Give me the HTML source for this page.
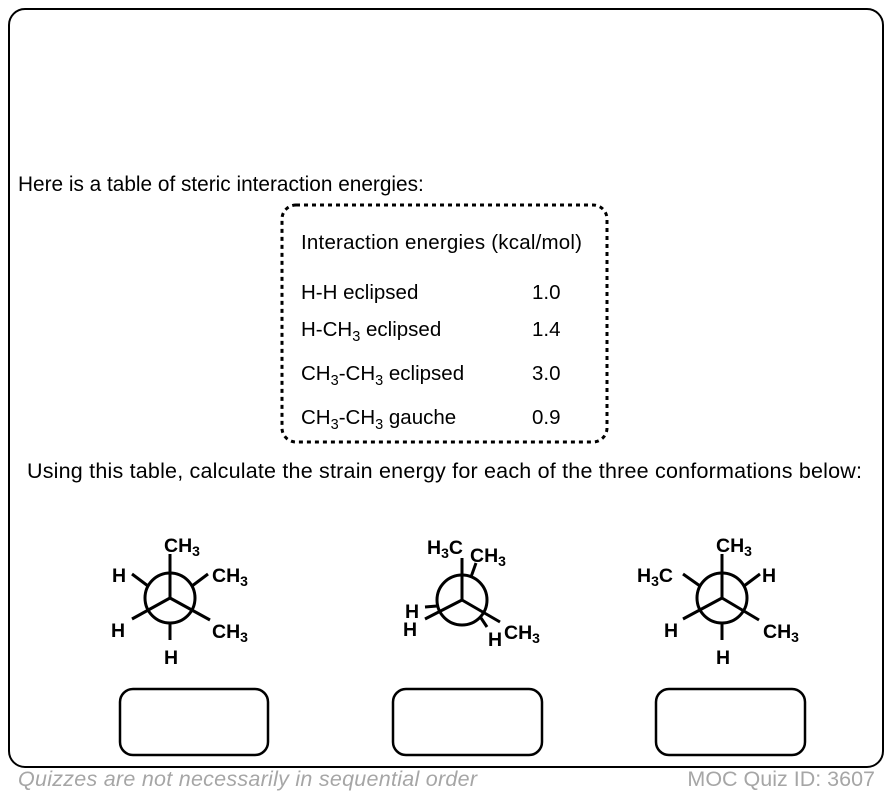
<!DOCTYPE html>
<html><head><meta charset="utf-8"><style>
html,body{margin:0;padding:0;background:#fff;}
svg{display:block;}
text{font-family:"Liberation Sans",Arial,sans-serif;}
</style></head><body>
<svg width="890" height="798" viewBox="0 0 890 798" xmlns="http://www.w3.org/2000/svg">
<rect x="9" y="9" width="874" height="758" rx="16" fill="#fff" stroke="#000" stroke-width="2"/>
<text x="18" y="191" font-size="20.8">Here is a table of steric interaction energies:</text>
<rect x="282" y="205" width="325" height="237" rx="14" fill="none" stroke="#000" stroke-width="3" stroke-dasharray="4,4"/>
<g font-size="20.5">
<text x="301" y="249" textLength="281">Interaction energies (kcal/mol)</text>
<text x="301" y="299">H-H eclipsed</text>
<text x="301" y="336">H-CH<tspan font-size="14.5" dy="5">3</tspan><tspan dy="-5"> eclipsed</tspan></text>
<text x="301" y="380">CH<tspan font-size="14.5" dy="5">3</tspan><tspan dy="-5">-CH</tspan><tspan font-size="14.5" dy="5">3</tspan><tspan dy="-5"> eclipsed</tspan></text>
<text x="301" y="424">CH<tspan font-size="14.5" dy="5">3</tspan><tspan dy="-5">-CH</tspan><tspan font-size="14.5" dy="5">3</tspan><tspan dy="-5"> gauche</tspan></text>
<text x="532" y="299">1.0</text>
<text x="532" y="336">1.4</text>
<text x="532" y="380">3.0</text>
<text x="532" y="424">0.9</text>
</g>
<text x="27" y="478" font-size="21.5" textLength="835">Using this table, calculate the strain energy for each of the three conformations below:</text>

<g stroke="#000" stroke-width="3" fill="none">
<circle cx="170" cy="598" r="25"/>
<line x1="170" y1="598" x2="170" y2="554"/>
<line x1="170" y1="598" x2="132" y2="619"/>
<line x1="170" y1="598" x2="210" y2="620"/>
<line x1="170" y1="623" x2="170" y2="640"/>
<line x1="148" y1="586" x2="132" y2="574"/>
<line x1="192" y1="586" x2="208" y2="574"/>
<circle cx="462" cy="600" r="25"/>
<line x1="462" y1="600" x2="462" y2="558"/>
<line x1="462" y1="600" x2="425" y2="619"/>
<line x1="462" y1="600" x2="500" y2="622"/>
<line x1="471" y1="577" x2="476" y2="563"/>
<line x1="437" y1="606" x2="425" y2="607"/>
<line x1="481" y1="618" x2="487" y2="627"/>
<circle cx="722" cy="598" r="25"/>
<line x1="722" y1="598" x2="722" y2="554"/>
<line x1="722" y1="598" x2="683" y2="619"/>
<line x1="722" y1="598" x2="759" y2="620"/>
<line x1="722" y1="623" x2="722" y2="640"/>
<line x1="700" y1="586" x2="683" y2="574"/>
<line x1="744" y1="586" x2="760" y2="574"/>
</g>
<g font-size="19.5" font-weight="bold">
<text x="164" y="552">CH<tspan font-size="14" dy="4">3</tspan></text>
<text x="112" y="582">H</text>
<text x="212" y="582">CH<tspan font-size="14" dy="4">3</tspan></text>
<text x="111" y="637">H</text>
<text x="212" y="638">CH<tspan font-size="14" dy="4">3</tspan></text>
<text x="164" y="664">H</text>

<text x="427" y="554">H<tspan font-size="14" dy="4">3</tspan><tspan dy="-4">C</tspan></text>
<text x="470" y="562">CH<tspan font-size="14" dy="4">3</tspan></text>
<text x="405" y="618">H</text>
<text x="403" y="636">H</text>
<text x="488" y="646">H</text>
<text x="504" y="639">CH<tspan font-size="14" dy="4">3</tspan></text>

<text x="716" y="552">CH<tspan font-size="14" dy="4">3</tspan></text>
<text x="637" y="582">H<tspan font-size="14" dy="4">3</tspan><tspan dy="-4">C</tspan></text>
<text x="762" y="582">H</text>
<text x="664" y="637">H</text>
<text x="763" y="638">CH<tspan font-size="14" dy="4">3</tspan></text>
<text x="716" y="664">H</text>
</g>
<g fill="#fff" stroke="#000" stroke-width="2.5">
<rect x="120" y="689" width="148" height="66" rx="13"/>
<rect x="393" y="689" width="149" height="66" rx="13"/>
<rect x="656" y="689" width="149" height="66" rx="13"/>
</g>
<text x="18" y="786" font-size="21.5" font-style="italic" fill="#a6a6a6" textLength="459">Quizzes are not necessarily in sequential order</text>
<text x="875" y="786" font-size="21.5" fill="#a6a6a6" text-anchor="end">MOC Quiz ID: 3607</text>
</svg>
</body></html>
